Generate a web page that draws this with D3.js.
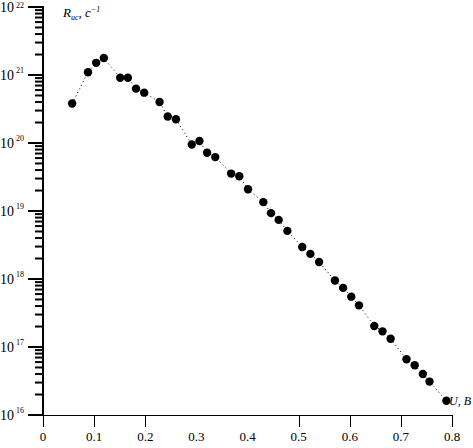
<!DOCTYPE html>
<html><head><meta charset="utf-8">
<script src="https://cdn.jsdelivr.net/npm/d3@7"></script>
<style>body{margin:0;background:#fff}svg{display:block}text{font-family:"Liberation Serif","Times New Roman",serif;fill:#000}</style>
</head><body><svg id="c" width="473" height="448"></svg>
<script>
const voltage = [0.057,0.088,0.104,0.119,0.151,0.166,0.182,0.198,0.228,0.244,0.260,0.291,0.306,0.321,0.337,0.368,0.384,0.401,0.431,0.446,0.461,0.478,0.507,0.523,0.540,0.571,0.587,0.603,0.618,0.648,0.664,0.680,0.711,0.727,0.743,0.756,0.789];
const rate = [3.8e20,1.1e21,1.51e21,1.78e21,9.1e20,9.1e20,6.3e20,5.5e20,4.0e20,2.45e20,2.24e20,9.5e19,1.07e20,7.2e19,6.2e19,3.55e19,3.24e19,2.09e19,1.35e19,9.3e18,7.4e18,5.1e18,2.95e18,2.34e18,1.78e18,9.5e17,7.4e17,5.5e17,4.1e17,2.04e17,1.7e17,1.32e17,6.6e16,5.4e16,4.0e16,3.1e16,1.62e16];
const xTicks = [0,0.1,0.2,0.3,0.4,0.5,0.6,0.7,0.8];
const xTicksWithMark = [0,0.1,0.2,0.5,0.6,0.7,0.8];
const yExponents = [16,17,18,19,20,21,22];

const svg = d3.select("#c");
const x = d3.scaleLinear().domain([0,0.8]).range([43,452]);
const y = d3.scaleLog().domain([1e16,1e22]).range([415,7]);

svg.append("line").attr("x1",43).attr("x2",452).attr("y1",415.5).attr("y2",415.5).attr("stroke","#000").attr("stroke-width",1);
svg.selectAll(".xt").data(xTicksWithMark).enter().append("line")
  .attr("x1",d=>Math.round(x(d))+0.5).attr("x2",d=>Math.round(x(d))+0.5)
  .attr("y1",415).attr("y2",427).attr("stroke","#000").attr("stroke-width",1);
svg.selectAll(".xl").data(xTicks).enter().append("text")
  .attr("x",d=>x(d)).attr("y",441).attr("text-anchor","middle").attr("font-size",13)
  .text(d=>d===0?"0":d.toFixed(1));

svg.append("line").attr("x1",43).attr("x2",43).attr("y1",6).attr("y2",415).attr("stroke","#000").attr("stroke-width",2);
const minor = [];
for(let e=16;e<22;e++) for(let m=2;m<=9;m++) minor.push(m*Math.pow(10,e));
svg.selectAll(".ym").data(minor).enter().append("line")
  .attr("x1",35).attr("x2",43).attr("y1",d=>y(d)).attr("y2",d=>y(d))
  .attr("stroke","#000").attr("stroke-width",2);
svg.selectAll(".yM").data(yExponents).enter().append("line")
  .attr("x1",28).attr("x2",43).attr("y1",d=>y(Math.pow(10,d))).attr("y2",d=>y(Math.pow(10,d)))
  .attr("stroke","#000").attr("stroke-width",2);
const yl = svg.selectAll(".yl").data(yExponents).enter().append("text")
  .attr("x",0).attr("y",d=>y(Math.pow(10,d))+5).attr("font-size",14);
yl.append("tspan").text("10");
yl.append("tspan").attr("font-size",8).attr("dy",d=>d===22?-4:-7).attr("dx",2).text(d=>String(d));

const line = d3.line().x((d,i)=>x(voltage[i])).y(d=>y(d));
svg.append("path").attr("d",line(rate)).attr("fill","none").attr("stroke","#000")
  .attr("stroke-width",1).attr("stroke-dasharray","1,3");
svg.selectAll(".pt").data(rate).enter().append("circle")
  .attr("cx",(d,i)=>x(voltage[i])).attr("cy",d=>y(d)).attr("r",4.2).attr("fill","#000");

const t = svg.append("text").attr("x",63).attr("y",17).attr("font-size",13).attr("font-style","italic");
t.append("tspan").text("R");
t.append("tspan").attr("font-size",8).attr("dy",3).text("ис");
t.append("tspan").attr("dy",-3).text(", с");
t.append("tspan").attr("font-size",8).attr("dy",-5).text("−1");
svg.append("text").attr("x",449).attr("y",405).attr("font-size",12).attr("font-style","italic").text("U, В");
</script></body></html>
